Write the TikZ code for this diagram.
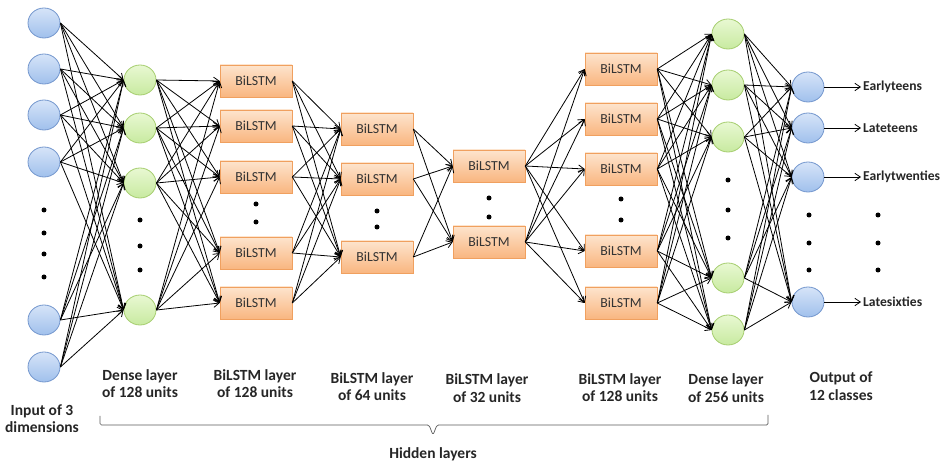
\documentclass[tikz,border=0pt]{standalone}
\usepackage{fontspec}
\setmainfont{Carlito}
\usetikzlibrary{shapes.geometric,arrows.meta,shadows}
\definecolor{bluetop}{RGB}{214,228,248}
\definecolor{bluebot}{RGB}{160,192,236}
\definecolor{bluebd}{RGB}{115,150,205}
\definecolor{greentop}{RGB}{232,248,210}
\definecolor{greenbot}{RGB}{200,234,160}
\definecolor{greenbd}{RGB}{165,205,110}
\definecolor{boxtop}{RGB}{253,228,205}
\definecolor{boxbot}{RGB}{249,182,128}
\definecolor{boxbd}{RGB}{240,160,95}
\definecolor{bracecol}{RGB}{90,90,90}
\begin{document}
\begin{tikzpicture}[x=1pt,y=-1pt,
  inball/.style={ellipse, draw=bluebd, line width=0.8pt, top color=bluetop, bottom color=bluebot, minimum width=32pt, minimum height=30pt, inner sep=0pt},
  greenball/.style={ellipse, draw=greenbd, line width=0.8pt, top color=greentop, bottom color=greenbot, minimum width=32pt, minimum height=30pt, inner sep=0pt},
  lstmbox/.style={rectangle, draw=boxbd, line width=0.6pt, top color=boxtop, bottom color=boxbot, minimum width=72pt, minimum height=32pt, inner sep=0pt, font=\fontsize{13.8}{15}\selectfont, text=black!80, drop shadow={shadow xshift=1.2pt, shadow yshift=-1.2pt, opacity=0.25}},
  conn/.style={-{Straight Barb[length=5.5pt,width=7.5pt]}, line width=0.8pt, black},
  dot/.style={circle, fill=black, inner sep=0pt, minimum size=5pt},
  lbl/.style={font=\bfseries\fontsize{15.5}{17.5}\selectfont, align=center, text=black!85},
  outlbl/.style={font=\bfseries\fontsize{13.6}{15}\selectfont, text=black!85, anchor=west, inner sep=2pt},
]
\useasboundingbox (0,0) rectangle (946,462);

% input layer
\foreach \n/\y in {1/23,2/69,3/115,4/162,5/320,6/367}
  \node[inball] (i\n) at (44,\y) {};
\foreach \n/\y in {1/210,2/233,3/254,4/277}
  \node[dot] (id\n) at (44,\y) {};

% dense 128
\foreach \n/\y in {1/80,2/128,3/183,4/310}
  \node[greenball] (d\n) at (140,\y) {};
\foreach \n/\y in {1/220,2/246,3/270}
  \node[dot] (dd\n) at (140,\y) {};

% BiLSTM 128
\foreach \n/\y in {1/81,2/126,3/177,4/253,5/303}
  \node[lstmbox] (a\n) at (256,\y) {BiLSTM};
\foreach \n/\y in {1/204,2/222}
  \node[dot] (ad\n) at (256,\y) {};

% BiLSTM 64
\foreach \n/\y in {1/129,2/179,3/257}
  \node[lstmbox] (b\n) at (377,\y) {BiLSTM};
\foreach \n/\y in {1/211,2/227}
  \node[dot] (bd\n) at (377,\y) {};

% BiLSTM 32
\foreach \n/\y in {1/166,2/242}
  \node[lstmbox] (c\n) at (489,\y) {BiLSTM};
\foreach \n/\y in {1/198,2/217}
  \node[dot] (cd\n) at (489,\y) {};

% BiLSTM 128 (right)
\foreach \n/\y in {1/69,2/119,3/169,4/251,5/303}
  \node[lstmbox] (e\n) at (621,\y) {BiLSTM};
\foreach \n/\y in {1/199,2/220}
  \node[dot] (ed\n) at (621,\y) {};

% dense 256
\foreach \n/\y in {1/34,2/85,3/137,4/278,5/330}
  \node[greenball] (f\n) at (728,\y) {};
\foreach \n/\y in {1/180,2/210,3/238}
  \node[dot] (fd\n) at (728,\y) {};

% output
\foreach \n/\y in {1/87,2/128,3/177,4/302}
  \node[inball] (o\n) at (808,\y) {};
\foreach \n/\y in {1/215,2/243,3/270}
  \node[dot] (od\n) at (809,\y) {};
\foreach \n/\y in {1/215,2/243,3/270}
  \node[dot] (ld\n) at (878,\y) {};

\node[outlbl] (l1) at (861,87) {Earlyteens};
\node[outlbl] (l2) at (861,128) {Lateteens};
\node[outlbl] (l3) at (861,177) {Earlytwenties};
\node[outlbl] (l4) at (861,302) {Latesixties};

% connections
\foreach \s in {1,...,6} \foreach \t in {1,...,4} \draw[conn] (i\s.east) -- (d\t.west);
\foreach \s in {1,...,4} \foreach \t in {1,...,5} \draw[conn] (d\s.east) -- (a\t.west);
\foreach \s in {1,...,5} \foreach \t in {1,...,3} \draw[conn] (a\s.east) -- (b\t.west);
\foreach \s in {1,...,3} \foreach \t in {1,...,2} \draw[conn] (b\s.east) -- (c\t.west);
\foreach \s in {1,...,2} \foreach \t in {1,...,5} \draw[conn] (c\s.east) -- (e\t.west);
\foreach \s in {1,...,5} \foreach \t in {1,...,5} \draw[conn] (e\s.east) -- (f\t.west);
\foreach \s in {1,...,5} \foreach \t in {1,...,4} \draw[conn] (f\s.east) -- (o\t.west);
\foreach \n in {1,...,4} \draw[conn] (o\n.east) -- (l\n.west);

% bottom labels
\node[lbl] (t1) at (42,418.5) {Input of 3\\dimensions};
\node[lbl] (t2) at (140,383.5) {Dense layer\\of 128 units};
\node[lbl] (t3) at (255,383.5) {BiLSTM layer\\of 128 units};
\node[lbl] (t4) at (372,386.5) {BiLSTM layer\\of 64 units};
\node[lbl] (t5) at (487,388) {BiLSTM layer\\of 32 units};
\node[lbl] (t6) at (620,387.5) {BiLSTM layer\\of 128 units};
\node[lbl] (t7) at (726,388) {Dense layer\\of 256 units};
\node[lbl] (t8) at (841,386) {Output of\\12 classes};
\node[lbl] (hid) at (433,454) {Hidden layers};

% brace
\draw[bracecol, line width=0.7pt, rounded corners=1.5pt]
  (100,416) -- (100,425) -- (429,425) -- (433,435) -- (437,425) -- (768,425) -- (768,415);
\end{tikzpicture}
\end{document}
